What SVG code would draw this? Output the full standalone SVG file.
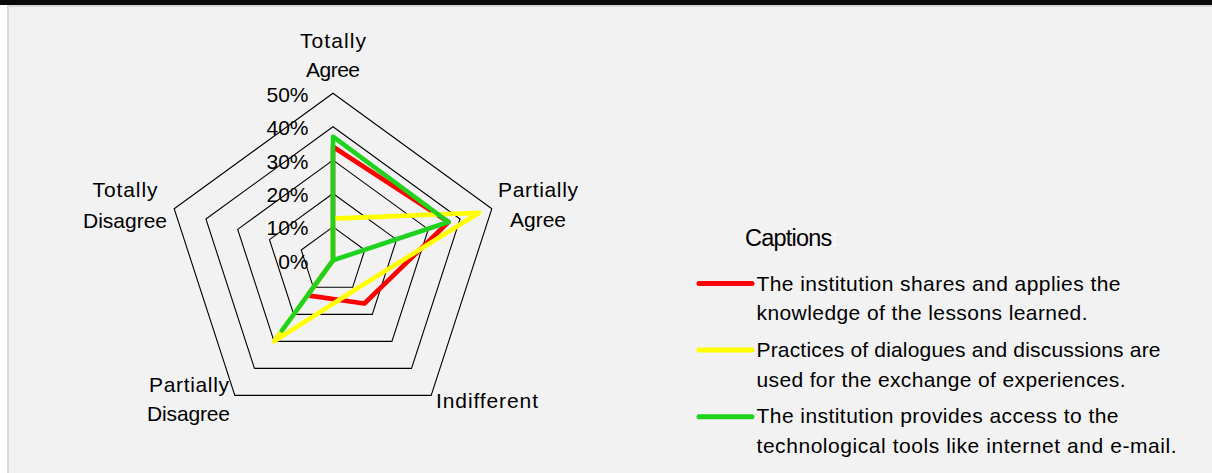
<svg xmlns="http://www.w3.org/2000/svg" width="1212" height="473" viewBox="0 0 1212 473">
  <style>
    .t { font-family: "Liberation Sans", Arial, sans-serif; font-size: 21px; fill: #000; }
    .grid { fill: none; stroke: #000; stroke-width: 1.1; }
    .series { fill: none; stroke-width: 4.6; stroke-linejoin: round; stroke-linecap: round; }
    .red { stroke: #ff0000; }
    .yellow { stroke: #ffff00; }
    .green { stroke: #1ed21e; }
    .lg { stroke-width: 5; stroke-linecap: round; }
  </style>
  <rect x="0" y="0" width="1212" height="473" fill="#ffffff"/>
  <rect x="8" y="6" width="1210" height="475" fill="#f2f2f2" stroke="#d9d9d9" stroke-width="2"/>
  <rect x="0" y="0" width="1212" height="5" fill="#0a0a0a"/>

  <g id="grid">
    <polygon class="grid" points="333,226.9 364.77,249.98 352.63,287.32 313.37,287.32 301.23,249.98"/>
    <polygon class="grid" points="333,193.5 396.53,239.66 372.27,314.34 293.73,314.34 269.47,239.66"/>
    <polygon class="grid" points="333,160.1 428.3,229.34 391.9,341.36 274.1,341.36 237.7,229.34"/>
    <polygon class="grid" points="333,126.7 460.07,219.02 411.53,368.38 254.47,368.38 205.93,219.02"/>
    <polygon class="grid" points="333,93.3 491.83,208.7 431.16,395.4 234.84,395.4 174.17,208.7"/>
  </g>

  <g id="axis-labels" class="t" text-anchor="end">
    <text x="308.5" y="101.7">50%</text>
    <text x="308.5" y="135.1">40%</text>
    <text x="308.5" y="168.5">30%</text>
    <text x="308.5" y="201.9">20%</text>
    <text x="308.5" y="235.3">10%</text>
    <text x="308.5" y="268.7">0%</text>
  </g>

  <g id="category-totally-agree" class="t" text-anchor="middle">
    <text x="333" y="47.5" textLength="66">Totally</text>
    <text x="333" y="77" textLength="54">Agree</text>
  </g>
  <g id="category-partially-agree" class="t" text-anchor="middle">
    <text x="538" y="197" textLength="80">Partially</text>
    <text x="538" y="227" textLength="56">Agree</text>
  </g>
  <g id="category-indifferent" class="t" text-anchor="middle">
    <text x="487" y="407.5" textLength="102">Indifferent</text>
  </g>
  <g id="category-partially-disagree" class="t" text-anchor="middle">
    <text x="189" y="392" textLength="80">Partially</text>
    <text x="188.5" y="421" textLength="83">Disagree</text>
  </g>
  <g id="category-totally-disagree" class="t" text-anchor="middle">
    <text x="125" y="197" textLength="65">Totally</text>
    <text x="125" y="227.5" textLength="84">Disagree</text>
  </g>

  <g id="series">
    <polygon id="series-red" class="series red" points="333,146.7 448.5,222 364.4,303.5 307.5,295.4 333,260.3"/>
    <polygon id="series-yellow" class="series yellow" points="333,218.6 479.1,212.8 354.6,290 274.1,341.4 333,260.3"/>
    <polygon id="series-green" class="series green" points="333,136.7 448.5,222 333,260.3 282,330.5 333,260.3"/>
  </g>

  <g id="legend">
    <text class="t" x="745" y="246" style="font-size:23.5px" textLength="93">Captions<tspan fill="#ffffff">:</tspan></text>
    <g id="legend-red">
      <line class="lg red" x1="699" y1="283.5" x2="752" y2="283.5"/>
      <text class="t" x="756.5" y="290.7" textLength="364">The institution shares and applies the</text>
      <text class="t" x="756.5" y="320" textLength="331">knowledge of the lessons learned.</text>
    </g>
    <g id="legend-yellow">
      <line class="lg yellow" x1="699" y1="350" x2="752" y2="350"/>
      <text class="t" x="756.5" y="356.7" textLength="404">Practices of dialogues and discussions are</text>
      <text class="t" x="756.5" y="386.7" textLength="369">used for the exchange of experiences.</text>
    </g>
    <g id="legend-green">
      <line class="lg green" x1="699" y1="416.7" x2="752" y2="416.7"/>
      <text class="t" x="756.5" y="423.3" textLength="362">The institution provides access to the</text>
      <text class="t" x="756.5" y="452.7" textLength="420">technological tools like internet and e-mail.</text>
    </g>
  </g>
</svg>
